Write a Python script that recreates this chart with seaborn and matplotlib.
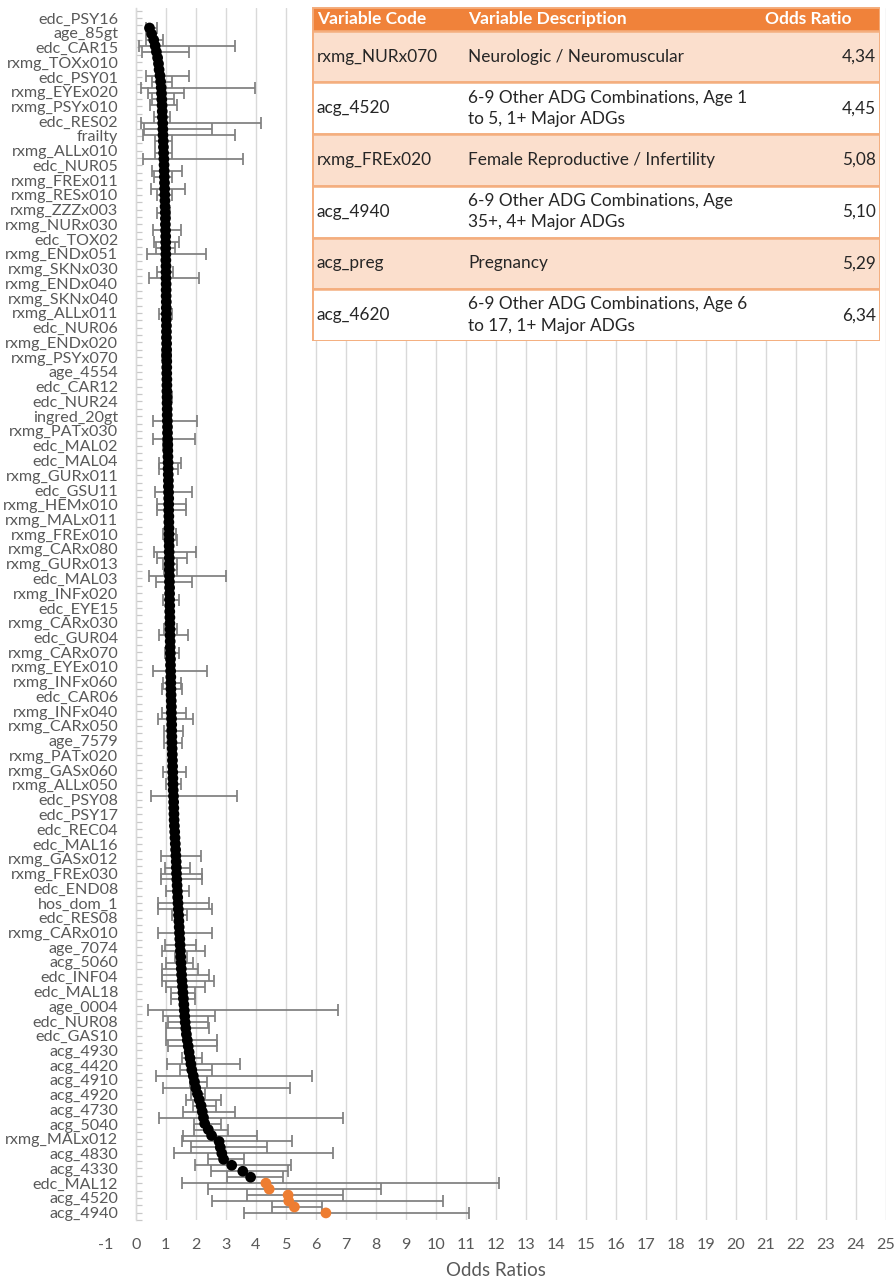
import numpy as np
import pandas as pd
import matplotlib
matplotlib.use("Agg")
import matplotlib.pyplot as plt
import seaborn as sns
from matplotlib.patches import Rectangle

# ---------------- data ----------------
# category labels shown on the y axis (every other category is labelled)
labels = [
    "edc_PSY16", "age_85gt", "edc_CAR15", "rxmg_TOXx010", "edc_PSY01", "rxmg_EYEx020",
    "rxmg_PSYx010", "edc_RES02", "frailty", "rxmg_ALLx010", "edc_NUR05", "rxmg_FREx011",
    "rxmg_RESx010", "rxmg_ZZZx003", "rxmg_NURx030", "edc_TOX02", "rxmg_ENDx051",
    "rxmg_SKNx030", "rxmg_ENDx040", "rxmg_SKNx040", "rxmg_ALLx011", "edc_NUR06",
    "rxmg_ENDx020", "rxmg_PSYx070", "age_4554", "edc_CAR12", "edc_NUR24", "ingred_20gt",
    "rxmg_PATx030", "edc_MAL02", "edc_MAL04", "rxmg_GURx011", "edc_GSU11", "rxmg_HEMx010",
    "rxmg_MALx011", "rxmg_FREx010", "rxmg_CARx080", "rxmg_GURx013", "edc_MAL03",
    "rxmg_INFx020", "edc_EYE15", "rxmg_CARx030", "edc_GUR04", "rxmg_CARx070",
    "rxmg_EYEx010", "rxmg_INFx060", "edc_CAR06", "rxmg_INFx040", "rxmg_CARx050",
    "age_7579", "rxmg_PATx020", "rxmg_GASx060", "rxmg_ALLx050", "edc_PSY08", "edc_PSY17",
    "edc_REC04", "edc_MAL16", "rxmg_GASx012", "rxmg_FREx030", "edc_END08", "hos_dom_1",
    "edc_RES08", "rxmg_CARx010", "age_7074", "acg_5060", "edc_INF04", "edc_MAL18",
    "age_0004", "edc_NUR08", "edc_GAS10", "acg_4930", "acg_4420", "acg_4910", "acg_4920",
    "acg_4730", "acg_5040", "rxmg_MALx012", "acg_4830", "acg_4330", "edc_MAL12",
    "acg_4520", "acg_4940",
]

# odds ratio of every variable, sorted ascending (top to bottom)
odds = [
    0.46, 0.53, 0.60, 0.65, 0.69, 0.73, 0.76, 0.78, 0.81, 0.83, 0.85, 0.86, 0.87,
    0.88, 0.885, 0.89, 0.90, 0.905, 0.91, 0.92, 0.925, 0.93, 0.94, 0.945,
    0.95, 0.955, 0.96, 0.965, 0.97, 0.975, 0.98, 0.985, 0.99, 0.99, 0.995,
    1.0, 1.0, 1.0, 1.005, 1.005, 1.01, 1.01, 1.01, 1.015, 1.015, 1.015, 1.02, 1.02,
    1.02, 1.02, 1.025, 1.025, 1.025, 1.03, 1.03,
    1.03, 1.035, 1.035, 1.035, 1.04, 1.04, 1.04, 1.045, 1.045, 1.05, 1.05,
    1.055, 1.06, 1.06, 1.065, 1.07, 1.07, 1.075, 1.08, 1.08, 1.085, 1.09, 1.09, 1.095, 1.10,
    1.10, 1.10, 1.105, 1.105, 1.11, 1.11, 1.11, 1.115, 1.115, 1.12, 1.12, 1.12, 1.125,
    1.125, 1.13, 1.13, 1.13,
    1.135, 1.135, 1.14, 1.14, 1.145, 1.145, 1.15, 1.15, 1.155, 1.16, 1.16, 1.165, 1.17,
    1.17, 1.175, 1.18,
    1.185, 1.19, 1.19, 1.195, 1.20, 1.20, 1.205, 1.21, 1.215, 1.22, 1.225, 1.23,
    1.235, 1.24, 1.245, 1.25, 1.26, 1.265, 1.27, 1.275, 1.28, 1.29, 1.30,
    1.31, 1.32, 1.33, 1.34, 1.35, 1.355, 1.36, 1.37, 1.38, 1.39, 1.40,
    1.41, 1.42, 1.43, 1.44, 1.45, 1.46, 1.47, 1.48, 1.49, 1.50, 1.51, 1.52,
    1.53, 1.545, 1.56, 1.575, 1.59, 1.605, 1.62, 1.635, 1.65, 1.67, 1.69, 1.72,
    1.75, 1.78, 1.81, 1.84, 1.87, 1.92, 1.96, 2.00, 2.06, 2.12, 2.18, 2.22, 2.26, 2.30, 2.42,
    2.53, 2.78, 2.82, 2.87, 2.93, 3.20, 3.57, 3.83,
    4.34, 4.45, 5.08, 5.10, 5.29, 6.34,
]

# confidence intervals that are visible outside the dots (rank in the sorted list)
ci_rank = [0, 2, 3, 4, 8, 9, 10, 11, 12, 13, 15, 16, 17, 18, 19, 21, 22, 24, 25, 27, 28,
           31, 34, 36, 37, 38, 41, 42, 48, 55, 62, 66, 69, 70, 73, 74, 78, 80, 81, 85, 86,
           88, 89, 90, 91, 92, 93, 96, 101, 102, 105, 108, 110, 111, 115, 116, 118, 120,
           125, 127, 129, 139, 141, 142, 143, 145, 147, 148, 149, 152, 154, 155, 156, 157,
           158, 159, 160, 161, 162, 163, 165, 166, 167, 168, 170, 171, 173, 174, 175, 176,
           177, 178, 179, 180, 181, 182, 183, 184, 185, 186, 187, 188, 189, 190, 191, 192,
           193, 194, 195, 196, 197, 198, 199]
ci_low = [0.33, 0.33, 0.12, 0.22, 0.34, 0.53, 0.17, 0.40, 0.53, 0.48, 0.61, 0.17, 0.28, 0.23,
          0.64, 0.64, 0.23, 0.53, 0.61, 0.50, 0.70,
          0.70, 0.57, 0.61, 0.68, 0.39, 0.70, 0.44, 0.78, 0.88, 0.90, 0.56, 0.57, 0.92, 0.78,
          0.79, 0.64, 0.70, 0.71, 0.92, 0.97,
          0.61, 0.70, 0.92, 0.94, 0.44, 0.68, 0.90, 0.95, 0.78, 0.96, 0.57, 0.92, 0.88, 0.87,
          0.75, 0.94, 0.95,
          0.90, 1.00, 0.50, 0.83, 0.98, 0.83, 0.83, 1.00, 0.75, 0.75, 1.20, 0.75, 0.98, 0.87,
          1.30, 1.00,
          0.87, 0.87, 0.87, 1.00, 1.18, 1.18, 0.40, 0.92, 1.07, 1.00, 1.00, 1.09, 1.53, 1.03,
          1.48, 0.68,
          1.81, 0.90, 1.85, 1.68, 1.92, 1.57, 0.78, 1.94, 1.94, 1.57, 1.53, 1.83, 1.28, 2.42,
          1.98, 2.50,
          3.03, 1.55, 2.42, 3.72, 2.53, 4.53, 3.61]
ci_high = [0.70, 0.92, 3.31, 1.78, 1.78, 1.22, 3.98, 1.61, 1.29, 1.37, 1.14, 4.18, 2.53, 3.31,
           1.22, 1.22, 3.59, 1.53, 1.22, 1.64, 1.22,
           1.13, 1.50, 1.44, 1.30, 2.34, 1.24, 2.11, 1.22, 1.18, 1.20, 2.03, 1.97, 1.22, 1.50,
           1.41, 1.87, 1.68, 1.68, 1.34, 1.38,
           2.00, 1.72, 1.38, 1.36, 3.01, 1.87, 1.44, 1.38, 1.75, 1.43, 2.37, 1.50, 1.53, 1.67,
           1.92, 1.57, 1.55,
           1.67, 1.50, 3.39, 2.17, 1.81, 2.20, 2.20, 1.78, 2.45, 2.53, 1.72, 2.55, 2.00, 2.30,
           1.72, 1.92,
           2.06, 2.45, 2.61, 2.30, 1.96, 1.96, 6.75, 2.64, 2.40, 2.43, 2.70, 2.72, 2.20, 3.48,
           2.53, 5.89,
           2.37, 5.14, 2.30, 2.83, 2.67, 3.31, 6.90, 2.84, 3.09, 4.03, 5.20, 4.39, 6.59, 3.61,
           5.17, 5.09,
           4.90, 12.12, 8.18, 6.92, 10.23, 6.20, 11.12]

# table of the six highest odds ratios
table_codes = ["rxmg_NURx070", "acg_4520", "rxmg_FREx020", "acg_4940", "acg_preg", "acg_4620"]
table_desc = ["Neurologic / Neuromuscular",
              "6-9 Other ADG Combinations, Age 1\nto 5, 1+ Major ADGs",
              "Female Reproductive / Infertility",
              "6-9 Other ADG Combinations, Age\n35+, 4+ Major ADGs",
              "Pregnancy",
              "6-9 Other ADG Combinations, Age 6\nto 17, 1+ Major ADGs"]
table_or = [4.34, 4.45, 5.08, 5.10, 5.29, 6.34]
table_header = ["Variable Code", "Variable Description", "Odds Ratio"]
x_ticks = list(range(-1, 26))
x_title = "Odds Ratios"

# ---------------- styling ----------------
sns.set_theme(style="white")
plt.rcParams["font.family"] = ["Lato", "DejaVu Sans"]
GREY_TXT = "#595959"
GRID = "#d9d9d9"
ORANGE = "#EE7D31"
HEAD = "#F0823A"
LIGHT = "#FBDFCD"
BORDER = "#F4AE7E"

W, H = 896, 1282
fig = plt.figure(figsize=(W / 100, H / 100), dpi=100)

# pixel layout of the plot area
px_left, px_right = 105.7, 885.7
px_top, px_bot = 8.0, 1220.0
ax = fig.add_axes([px_left / W, 1 - px_bot / H, (px_right - px_left) / W, (px_bot - px_top) / H])

df = pd.DataFrame({"odds": odds, "rank": np.arange(len(odds))})
df["top"] = df["odds"].isin(table_or)

lo_err = [odds[r] - l for r, l in zip(ci_rank, ci_low)]
hi_err = [h - odds[r] for r, h in zip(ci_rank, ci_high)]
ax.errorbar([odds[r] for r in ci_rank], ci_rank, xerr=[lo_err, hi_err], fmt="none",
            ecolor="#7f7f7f", elinewidth=1.25, capsize=4.5, capthick=1.25, zorder=2)

sns.scatterplot(data=df, x="odds", y="rank", hue="top",
                palette={False: "black", True: ORANGE}, s=60, linewidth=0,
                legend=False, ax=ax, zorder=3)

# y scale: dot i sits at pixel 28 + 5.955 * i
row_px = 5.955
def px2y(p):
    return (p - 28.0) / row_px

ax.set_ylim(px2y(px_bot), px2y(px_top))
ax.set_xlim(-1, 25)

lab_pos = np.linspace(px2y(18.0), px2y(18.0 + 14.75 * (len(labels) - 1)), len(labels))
step = lab_pos[1] - lab_pos[0]
ax.set_yticks(lab_pos)
ax.set_yticklabels(labels)
ax.set_yticks(np.linspace(lab_pos[0] - step / 2, lab_pos[-1] + step / 2, 2 * len(labels) + 1),
              minor=True)
ax.tick_params(axis="y", which="both", direction="in", length=4.5, width=0.9, color="#c8c8c8",
               pad=12.5, labelsize=11.6, labelcolor=GREY_TXT, left=True)
ax.set_xticks(x_ticks)
ax.set_xticklabels([str(t) for t in x_ticks])
ax.tick_params(axis="x", length=0, pad=13, labelsize=11.6, labelcolor=GREY_TXT)
ax.set_xlabel(x_title, fontsize=13.5, color=GREY_TXT, labelpad=7)
ax.set_ylabel("")

ax.grid(axis="x", color=GRID, linewidth=1.0)
ax.grid(axis="y", visible=False)
ax.set_axisbelow(True)
ax.xaxis.get_gridlines()[0].set_visible(False)
for s in ["top", "right", "bottom"]:
    ax.spines[s].set_visible(False)
ax.spines["left"].set_position(("data", 0))
ax.spines["left"].set_color(GRID)
ax.spines["left"].set_linewidth(1.0)

# ---------------- table ----------------
t_left, t_right, t_top, t_bot = 311.7, 880.0, 6.7, 341.0
tw, th = t_right - t_left, t_bot - t_top
tax = fig.add_axes([t_left / W, 1 - t_bot / H, tw / W, th / H])
tax.set_xlim(0, tw)
tax.set_ylim(th, 0)
tax.axis("off")
head_h = 24.0
row_h = (th - head_h) / len(table_codes)

tax.add_patch(Rectangle((0, 0), tw, head_h, facecolor=HEAD, edgecolor="none", zorder=1))
col_x = [5.0, 156.6, 453.3]
for x, txt in zip(col_x, table_header):
    tax.text(x, head_h / 2 + 0.5, txt, color="white", fontsize=12.5, fontweight="bold",
             va="center", ha="left", zorder=3)
for i, (code, desc, orv) in enumerate(zip(table_codes, table_desc, table_or)):
    y0 = head_h + i * row_h
    fc = LIGHT if i % 2 == 0 else "white"
    tax.add_patch(Rectangle((0, y0), tw, row_h, facecolor=fc, edgecolor=BORDER,
                            linewidth=1.8, zorder=1))
    yc = y0 + row_h / 2
    tax.text(col_x[0], yc, code, fontsize=12.4, color="#262626", va="center", ha="left", zorder=3)
    tax.text(col_x[1], yc, desc, fontsize=12.4, color="#262626", va="center", ha="left",
             linespacing=1.42, zorder=3)
    tax.text(tw - 4, yc, f"{orv:.2f}".replace(".", ","), fontsize=12.4, color="#262626",
             va="center", ha="right", zorder=3)
tax.add_patch(Rectangle((0, 0), tw, th, facecolor="none", edgecolor=BORDER, linewidth=2.0,
                        zorder=4))

fig.savefig("out.png", dpi=100)
